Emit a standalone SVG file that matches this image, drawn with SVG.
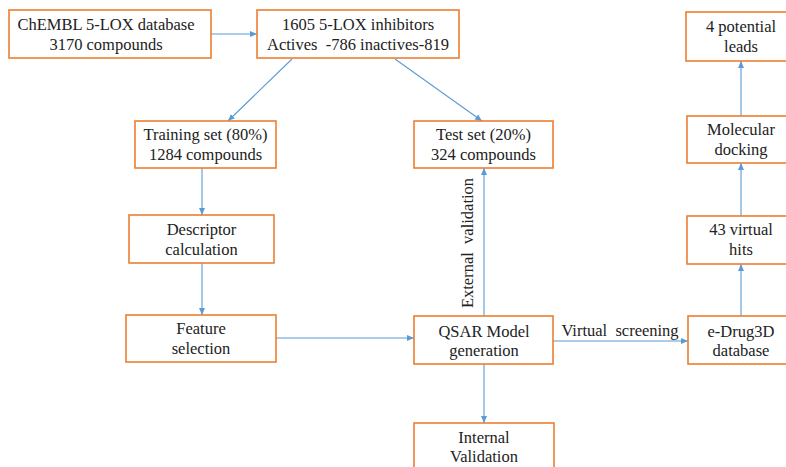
<svg xmlns="http://www.w3.org/2000/svg" width="786" height="467" viewBox="0 0 786 467">
  <style>
    .box { fill: #ffffff; stroke: #ED7D31; stroke-width: 1.6; }
    .lbl { font-family: "Liberation Serif", "Times New Roman", serif; font-size: 16.5px; fill: #222222; text-anchor: middle; }
    .edge { stroke: #5B9BD5; stroke-width: 1.1; fill: none; marker-end: url(#arrow); }
  </style>
  <defs>
    <marker id="arrow" markerUnits="userSpaceOnUse" markerWidth="8" markerHeight="8" viewBox="0 0 8 8" refX="7" refY="4" orient="auto">
      <path d="M0,1 L7,4 L0,7 Z" fill="#5B9BD5"/>
    </marker>
  </defs>
  <rect width="786" height="467" fill="#ffffff"/>

  <!-- connectors -->
  <g id="connectors">
    <line class="edge" x1="211" y1="34" x2="257" y2="34"/>
    <line class="edge" x1="292" y1="59" x2="228" y2="121"/>
    <line class="edge" x1="395" y1="59" x2="482" y2="121"/>
    <line class="edge" x1="202" y1="168" x2="202" y2="215"/>
    <line class="edge" x1="202" y1="263" x2="202" y2="315"/>
    <line class="edge" x1="276" y1="338" x2="414" y2="338"/>
    <line class="edge" x1="484" y1="316" x2="484" y2="168"/>
    <line class="edge" x1="553" y1="341" x2="688" y2="341"/>
    <line class="edge" x1="484" y1="364" x2="484" y2="423"/>
    <line class="edge" x1="741" y1="316" x2="741" y2="264"/>
    <line class="edge" x1="741" y1="216" x2="741" y2="163"/>
    <line class="edge" x1="741" y1="116" x2="741" y2="61"/>
    <text class="lbl" x="620" y="336" xml:space="preserve">Virtual  screening</text>
    <text class="lbl" transform="translate(473,243) rotate(-90)" x="0" y="0" xml:space="preserve">External  validation</text>
  </g>

  <g id="chembl">
    <rect class="box" x="9" y="10" width="202" height="48"/>
    <text class="lbl" x="106" y="30">ChEMBL 5-LOX database</text>
    <text class="lbl" x="106" y="50">3170 compounds</text>
  </g>
  <g id="inhibitors">
    <rect class="box" x="257" y="10" width="202" height="48"/>
    <text class="lbl" x="358" y="30">1605 5-LOX inhibitors</text>
    <text class="lbl" x="358" y="50" xml:space="preserve">Actives  -786 inactives-819</text>
  </g>
  <g id="training">
    <rect class="box" x="135" y="121" width="141" height="47"/>
    <text class="lbl" x="205.5" y="140">Training set (80%)</text>
    <text class="lbl" x="205.5" y="160">1284 compounds</text>
  </g>
  <g id="test">
    <rect class="box" x="414" y="121" width="139" height="47"/>
    <text class="lbl" x="483.5" y="140">Test set (20%)</text>
    <text class="lbl" x="483.5" y="160">324 compounds</text>
  </g>
  <g id="descriptor">
    <rect class="box" x="129" y="215" width="145" height="48"/>
    <text class="lbl" x="201.5" y="235">Descriptor</text>
    <text class="lbl" x="201.5" y="255">calculation</text>
  </g>
  <g id="feature">
    <rect class="box" x="126" y="315" width="150" height="47"/>
    <text class="lbl" x="201" y="334">Feature</text>
    <text class="lbl" x="201" y="354">selection</text>
  </g>
  <g id="qsar">
    <rect class="box" x="414" y="316" width="139" height="48"/>
    <text class="lbl" x="484" y="336.5">QSAR Model</text>
    <text class="lbl" x="484" y="356">generation</text>
  </g>
  <g id="internal">
    <rect class="box" x="414" y="423" width="140" height="60"/>
    <text class="lbl" x="484" y="443">Internal</text>
    <text class="lbl" x="484" y="462">Validation</text>
  </g>
  <g id="edrug3d">
    <rect class="box" x="688" y="316" width="110" height="48"/>
    <text class="lbl" x="741" y="337">e-Drug3D</text>
    <text class="lbl" x="741" y="356">database</text>
  </g>
  <g id="hits">
    <rect class="box" x="687" y="216" width="110" height="48"/>
    <text class="lbl" x="741" y="235">43 virtual</text>
    <text class="lbl" x="741" y="255">hits</text>
  </g>
  <g id="docking">
    <rect class="box" x="687" y="116" width="110" height="47"/>
    <text class="lbl" x="741" y="135">Molecular</text>
    <text class="lbl" x="741" y="155">docking</text>
  </g>
  <g id="leads">
    <rect class="box" x="686" y="12" width="110" height="49"/>
    <text class="lbl" x="741" y="32">4 potential</text>
    <text class="lbl" x="741" y="52">leads</text>
  </g>
</svg>
